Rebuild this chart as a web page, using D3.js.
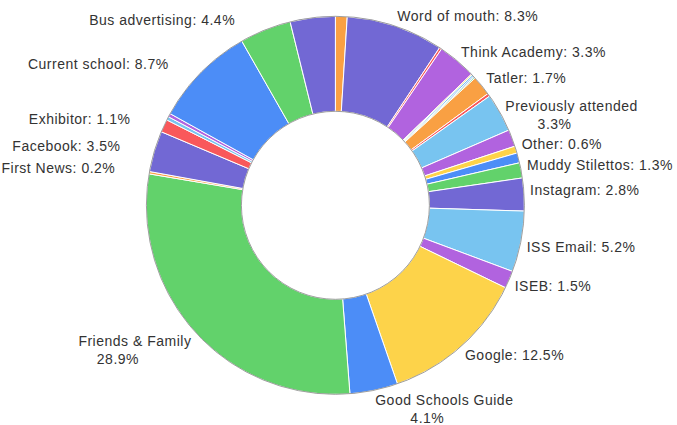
<!DOCTYPE html>
<html><head><meta charset="utf-8">
<script src="https://cdn.jsdelivr.net/npm/d3@7"></script>
<style>body{margin:0;background:#fff} svg{display:block}</style>
</head><body>
<svg id="chart" width="677" height="425"></svg>
<script>
// Slices in clockwise order from 12 o'clock (empty name = slice without a visible label)
const categories = ["", "Word of mouth", "", "Think Academy", "", "", "", "", "Tatler", "", "Previously attended", "", "Other", "", "Muddy Stilettos", "Instagram", "ISS Email", "ISEB", "Google", "Good Schools Guide", "Friends & Family", "First News", "Facebook", "Exhibitor", "", "", "Current school", "Bus advertising", ""];
const values = [1.0, 8.3, 0.2, 3.3, 0.1, 0.15, 0.1, 0.1, 1.7, 0.25, 3.3, 1.45, 0.6, 0.85, 1.3, 2.8, 5.2, 1.5, 12.5, 4.1, 28.9, 0.2, 3.5, 1.1, 0.3, 0.3, 8.7, 4.4, 3.85];
const colorKeys = ["orange","slate","red","purple","yellow","lightblue","blue","green","orange","red","lightblue","purple","yellow","blue","green","slate","lightblue","purple","yellow","blue","green","orange","slate","red","lightblue","purple","blue","green","slate"];
const palette = {orange:"#f9a043", slate:"#7268d4", red:"#f9585b", purple:"#b163df", yellow:"#fdd34a", blue:"#4c8df7", green:"#62d26b", lightblue:"#78c4f0"};

const W = 677, H = 425, cx = 335.4, cy = 205.3, R = 189, r0 = 94;
const svg = d3.select("#chart");
const g = svg.append("g").attr("transform", `translate(${cx},${cy})`);

const data = categories.map((c, i) => ({name: c, value: values[i], color: palette[colorKeys[i]]}));
const pie = d3.pie().sort(null).value(d => d.value).startAngle(0).endAngle(2 * Math.PI);
const arcs = pie(data);
const arc = d3.arc().innerRadius(r0).outerRadius(R);

g.selectAll("path.slice").data(arcs).join("path")
  .attr("class", "slice")
  .attr("d", arc)
  .attr("fill", d => d.data.color)
  .attr("stroke", "#fff")
  .attr("stroke-width", 1);

g.append("circle").attr("r", R).attr("fill", "none").attr("stroke", "#858585").attr("stroke-width", 0.8);
g.append("circle").attr("r", r0).attr("fill", "none").attr("stroke", "#858585").attr("stroke-width", 0.8);

const fmt = v => d3.format(".1f")(v) + "%";
const labelR = R + 6;
const labels = svg.append("g")
  .attr("font-family", "'Liberation Sans', Arial, Helvetica, sans-serif")
  .attr("font-size", 14)
  .attr("fill", "#333")
  .style("letter-spacing", "0.5px");

arcs.filter(d => d.data.name).forEach(d => {
  const th = (d.startAngle + d.endAngle) / 2;
  const px = cx + labelR * Math.sin(th);
  const py = cy - labelR * Math.cos(th);
  const right = Math.sin(th) >= 0;
  const upper = Math.cos(th) > 0;
  const yc = py + (upper ? -4 : 4);
  const full = d.data.name + ": " + fmt(d.data.value);
  const multi = full.length > 21;
  const lines = multi ? [d.data.name, fmt(d.data.value)] : [full];
  const t1 = labels.append("text").attr("dy", "0.35em").attr("y", yc).text(lines[0]);
  const w1 = t1.node().getComputedTextLength();
  let x1;
  if (right) x1 = px;
  else x1 = px - w1 - (multi ? 0 : 28);
  t1.attr("x", x1);
  if (multi) {
    const t2 = labels.append("text").attr("dy", "0.35em").attr("y", yc + 18).text(lines[1]);
    const w2 = t2.node().getComputedTextLength();
    t2.attr("x", x1 + (w1 - w2) / 2 - 17);
  }
});
</script>
</body></html>
